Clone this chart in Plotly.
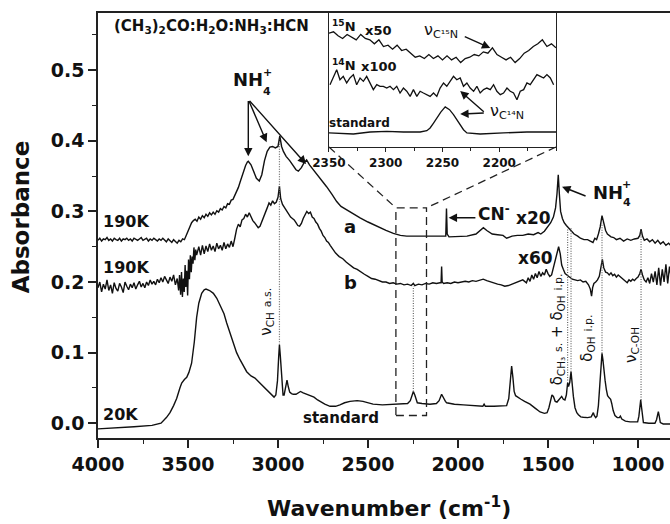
import plotly.graph_objects as go

FONT = "DejaVu Sans"
INK = "#111111"

# ---------------- main spectra: (wavenumber cm^-1, absorbance) ----------------
spec_standard = [
    (4000, -0.008), (3900, -0.007), (3800, -0.005), (3700, -0.003), (3650, 0.000), (3620, 0.008),
    (3600, 0.015), (3580, 0.025), (3563, 0.035), (3545, 0.050), (3535, 0.057), (3520, 0.062),
    (3507, 0.065), (3495, 0.072), (3480, 0.085), (3465, 0.115), (3452, 0.150), (3440, 0.170),
    (3424, 0.184), (3410, 0.189), (3400, 0.190), (3380, 0.188), (3359, 0.184), (3340, 0.177),
    (3322, 0.168), (3300, 0.155), (3285, 0.142), (3265, 0.127), (3248, 0.113), (3230, 0.100),
    (3211, 0.090), (3190, 0.080), (3174, 0.073), (3150, 0.067), (3128, 0.064), (3105, 0.058),
    (3081, 0.052), (3060, 0.047), (3044, 0.043), (3030, 0.039), (3022, 0.037), (3012, 0.040),
    (3003, 0.060), (2996, 0.095), (2992, 0.111), (2987, 0.095), (2980, 0.060), (2972, 0.040),
    (2966, 0.040), (2958, 0.050), (2950, 0.061), (2943, 0.052), (2935, 0.044), (2925, 0.042),
    (2915, 0.041), (2900, 0.041), (2885, 0.044), (2875, 0.045), (2860, 0.043), (2840, 0.041),
    (2822, 0.040), (2800, 0.037), (2780, 0.033), (2760, 0.030), (2740, 0.027), (2711, 0.024),
    (2680, 0.024), (2656, 0.026), (2630, 0.029), (2600, 0.031), (2560, 0.032), (2528, 0.031),
    (2500, 0.029), (2472, 0.027), (2420, 0.026), (2361, 0.027), (2300, 0.028), (2280, 0.028),
    (2265, 0.032), (2255, 0.041), (2248, 0.045), (2240, 0.040), (2232, 0.031), (2226, 0.029),
    (2200, 0.028), (2156, 0.027), (2120, 0.028), (2105, 0.032), (2091, 0.041), (2082, 0.036),
    (2070, 0.031), (2063, 0.029), (2020, 0.027), (1970, 0.026), (1900, 0.025), (1862, 0.024),
    (1855, 0.027), (1848, 0.024), (1800, 0.024), (1760, 0.024), (1730, 0.025), (1718, 0.035),
    (1710, 0.060), (1702, 0.081), (1695, 0.065), (1688, 0.045), (1680, 0.039), (1665, 0.036),
    (1650, 0.034), (1630, 0.031), (1600, 0.027), (1570, 0.021), (1544, 0.016), (1520, 0.014),
    (1505, 0.015), (1495, 0.022), (1485, 0.034), (1478, 0.040), (1470, 0.038), (1460, 0.031),
    (1450, 0.030), (1440, 0.033), (1430, 0.037), (1424, 0.038), (1415, 0.034), (1406, 0.033),
    (1398, 0.040), (1391, 0.057), (1386, 0.052), (1379, 0.058), (1372, 0.073), (1366, 0.055),
    (1359, 0.038), (1350, 0.022), (1340, 0.015), (1331, 0.012), (1318, 0.009), (1304, 0.0085),
    (1280, 0.008), (1260, 0.009), (1252, 0.013), (1248, 0.015), (1243, 0.011), (1235, 0.008),
    (1228, 0.010), (1220, 0.025), (1212, 0.055), (1205, 0.085), (1200, 0.099), (1195, 0.090),
    (1188, 0.070), (1183, 0.061), (1176, 0.048), (1169, 0.039), (1160, 0.036), (1152, 0.034),
    (1146, 0.028), (1138, 0.018), (1128, 0.011), (1115, 0.008), (1104, 0.008), (1098, 0.010),
    (1090, 0.006), (1070, 0.003), (1044, 0.002), (1020, 0.002), (1002, 0.002), (995, 0.010),
    (989, 0.025), (985, 0.033), (980, 0.022), (975, 0.008), (970, 0.001), (940, 0.000),
    (906, 0.000), (897, 0.005), (892, 0.013), (887, 0.0165), (882, 0.010), (876, 0.001),
    (860, -0.001), (840, -0.001), (815, -0.001),
]

spec_a = [
    (4000, 0.259), (3990, 0.262), (3980, 0.258), (3970, 0.261), (3960, 0.260), (3950, 0.263),
    (3940, 0.259), (3930, 0.261), (3920, 0.258), (3910, 0.262), (3900, 0.260), (3890, 0.259),
    (3880, 0.262), (3870, 0.258), (3860, 0.261), (3850, 0.260), (3840, 0.262), (3830, 0.259),
    (3820, 0.261), (3810, 0.258), (3800, 0.262), (3790, 0.260), (3780, 0.259), (3770, 0.261),
    (3760, 0.263), (3750, 0.259), (3740, 0.260), (3730, 0.262), (3720, 0.258), (3710, 0.261),
    (3700, 0.259), (3690, 0.262), (3680, 0.260), (3670, 0.258), (3660, 0.261), (3650, 0.259),
    (3640, 0.262), (3630, 0.260), (3620, 0.257), (3610, 0.261), (3600, 0.259), (3590, 0.256),
    (3580, 0.260), (3570, 0.258), (3560, 0.255), (3550, 0.259), (3540, 0.257), (3530, 0.261),
    (3520, 0.260), (3510, 0.266), (3500, 0.273), (3490, 0.280), (3480, 0.284), (3470, 0.287),
    (3460, 0.289), (3450, 0.286), (3440, 0.292), (3430, 0.289), (3420, 0.294), (3410, 0.291),
    (3400, 0.296), (3390, 0.293), (3380, 0.298), (3370, 0.295), (3360, 0.299), (3350, 0.296),
    (3340, 0.301), (3330, 0.299), (3320, 0.304), (3310, 0.302), (3300, 0.307), (3290, 0.305),
    (3280, 0.311), (3270, 0.310), (3260, 0.316), (3250, 0.317), (3240, 0.323), (3230, 0.327),
    (3220, 0.334), (3210, 0.342), (3200, 0.350), (3190, 0.358), (3180, 0.365), (3170, 0.370),
    (3165, 0.371), (3150, 0.366), (3135, 0.356), (3120, 0.347), (3104, 0.343), (3090, 0.352),
    (3075, 0.372), (3060, 0.385), (3045, 0.391), (3030, 0.392), (3015, 0.390), (3000, 0.392),
    (2990, 0.407), (2980, 0.392), (2970, 0.385), (2955, 0.378), (2935, 0.372), (2915, 0.364),
    (2900, 0.359), (2887, 0.357), (2870, 0.362), (2855, 0.369), (2841, 0.373), (2825, 0.366),
    (2800, 0.358), (2785, 0.353), (2760, 0.345), (2730, 0.335), (2700, 0.324), (2674, 0.314),
    (2650, 0.307), (2619, 0.302), (2580, 0.296), (2544, 0.291), (2500, 0.285), (2452, 0.279),
    (2400, 0.273), (2359, 0.269), (2320, 0.266), (2285, 0.265), (2250, 0.265), (2210, 0.264),
    (2170, 0.264), (2120, 0.265), (2080, 0.265), (2068, 0.265), (2064, 0.304), (2060, 0.268),
    (2050, 0.264), (2020, 0.264), (1990, 0.265), (1950, 0.265), (1900, 0.268), (1875, 0.274),
    (1859, 0.277), (1840, 0.273), (1810, 0.268), (1780, 0.267), (1750, 0.266), (1730, 0.262),
    (1700, 0.265), (1670, 0.266), (1640, 0.266), (1610, 0.268), (1580, 0.267), (1555, 0.270),
    (1540, 0.268), (1520, 0.272), (1500, 0.278), (1485, 0.284), (1470, 0.292), (1458, 0.305),
    (1450, 0.325), (1443, 0.352), (1437, 0.325), (1430, 0.300), (1420, 0.290), (1410, 0.284),
    (1398, 0.280), (1390, 0.278), (1380, 0.275), (1370, 0.272), (1355, 0.268), (1335, 0.265),
    (1320, 0.262), (1300, 0.260), (1280, 0.260), (1265, 0.258), (1250, 0.256), (1240, 0.262),
    (1230, 0.260), (1220, 0.268), (1210, 0.278), (1200, 0.294), (1190, 0.285), (1180, 0.273),
    (1170, 0.268), (1160, 0.266), (1150, 0.264), (1135, 0.263), (1120, 0.260), (1100, 0.262),
    (1080, 0.258), (1060, 0.261), (1040, 0.259), (1020, 0.261), (1000, 0.262), (990, 0.266),
    (983, 0.275), (975, 0.265), (965, 0.259), (950, 0.261), (935, 0.257), (920, 0.260),
    (905, 0.255), (890, 0.259), (875, 0.254), (860, 0.257), (845, 0.252), (830, 0.255),
    (815, 0.251),
]

spec_b = [
    (4000, 0.192), (3990, 0.200), (3980, 0.186), (3970, 0.197), (3960, 0.190), (3950, 0.203),
    (3940, 0.188), (3930, 0.196), (3920, 0.184), (3910, 0.199), (3900, 0.191), (3890, 0.187),
    (3880, 0.198), (3870, 0.193), (3860, 0.185), (3850, 0.200), (3840, 0.194), (3830, 0.189),
    (3820, 0.197), (3810, 0.192), (3800, 0.199), (3790, 0.190), (3780, 0.196), (3770, 0.201),
    (3760, 0.193), (3750, 0.198), (3740, 0.192), (3730, 0.200), (3720, 0.195), (3710, 0.203),
    (3700, 0.197), (3690, 0.201), (3680, 0.196), (3670, 0.204), (3660, 0.199), (3650, 0.206),
    (3640, 0.200), (3630, 0.208), (3620, 0.203), (3610, 0.198), (3600, 0.207), (3590, 0.201),
    (3580, 0.210), (3570, 0.196), (3560, 0.205), (3552, 0.188), (3547, 0.210), (3541, 0.182),
    (3536, 0.214), (3531, 0.179), (3526, 0.205), (3521, 0.186), (3516, 0.224), (3512, 0.193),
    (3507, 0.216), (3502, 0.181), (3497, 0.232), (3492, 0.204), (3487, 0.238), (3482, 0.214),
    (3477, 0.236), (3472, 0.226), (3467, 0.249), (3462, 0.231), (3457, 0.246), (3452, 0.238),
    (3440, 0.250), (3430, 0.238), (3420, 0.252), (3410, 0.240), (3400, 0.251), (3390, 0.243),
    (3380, 0.254), (3370, 0.245), (3360, 0.251), (3350, 0.243), (3340, 0.255), (3330, 0.247),
    (3320, 0.252), (3310, 0.245), (3300, 0.256), (3290, 0.247), (3280, 0.254), (3270, 0.249),
    (3260, 0.258), (3250, 0.250), (3240, 0.262), (3230, 0.275), (3220, 0.282), (3210, 0.278),
    (3200, 0.288), (3190, 0.290), (3180, 0.296), (3170, 0.292), (3160, 0.298), (3150, 0.291),
    (3140, 0.287), (3130, 0.284), (3120, 0.280), (3110, 0.277), (3100, 0.279), (3090, 0.285),
    (3080, 0.293), (3070, 0.299), (3060, 0.305), (3050, 0.312), (3040, 0.309), (3030, 0.315),
    (3020, 0.311), (3010, 0.313), (3000, 0.320), (2992, 0.336), (2985, 0.318), (2975, 0.310),
    (2965, 0.306), (2950, 0.300), (2940, 0.296), (2930, 0.292), (2920, 0.290), (2910, 0.288),
    (2900, 0.284), (2890, 0.280), (2880, 0.279), (2870, 0.283), (2860, 0.290), (2850, 0.296),
    (2840, 0.300), (2830, 0.297), (2820, 0.299), (2810, 0.292), (2800, 0.290), (2790, 0.285),
    (2780, 0.282), (2770, 0.276), (2760, 0.272), (2750, 0.266), (2740, 0.263), (2730, 0.258),
    (2720, 0.256), (2710, 0.252), (2700, 0.248), (2680, 0.241), (2660, 0.236), (2640, 0.233),
    (2620, 0.228), (2600, 0.224), (2580, 0.220), (2560, 0.218), (2540, 0.214), (2520, 0.211),
    (2500, 0.208), (2480, 0.205), (2460, 0.204), (2440, 0.202), (2420, 0.200), (2400, 0.200),
    (2380, 0.198), (2360, 0.199), (2340, 0.197), (2320, 0.198), (2300, 0.196), (2280, 0.197),
    (2260, 0.195), (2248, 0.198), (2240, 0.195), (2220, 0.197), (2200, 0.196), (2180, 0.198),
    (2160, 0.197), (2140, 0.199), (2120, 0.198), (2100, 0.199), (2094, 0.199), (2091, 0.222),
    (2088, 0.200), (2080, 0.198), (2060, 0.199), (2040, 0.198), (2020, 0.200), (2000, 0.199),
    (1980, 0.200), (1960, 0.201), (1940, 0.200), (1920, 0.202), (1900, 0.201), (1880, 0.203),
    (1860, 0.204), (1840, 0.202), (1820, 0.200), (1800, 0.199), (1780, 0.197), (1760, 0.196),
    (1740, 0.194), (1720, 0.195), (1700, 0.197), (1680, 0.198), (1660, 0.200), (1640, 0.203),
    (1620, 0.199), (1610, 0.206), (1600, 0.201), (1590, 0.210), (1580, 0.204), (1570, 0.212),
    (1560, 0.206), (1550, 0.215), (1540, 0.208), (1530, 0.213), (1520, 0.210), (1510, 0.218),
    (1500, 0.212), (1490, 0.208), (1480, 0.210), (1470, 0.220), (1460, 0.232), (1450, 0.242),
    (1441, 0.250), (1432, 0.240), (1424, 0.224), (1415, 0.218), (1405, 0.212), (1395, 0.210),
    (1385, 0.208), (1375, 0.206), (1365, 0.204), (1350, 0.203), (1335, 0.202), (1320, 0.203),
    (1305, 0.200), (1290, 0.201), (1275, 0.196), (1265, 0.190), (1258, 0.180), (1252, 0.192),
    (1245, 0.198), (1235, 0.200), (1225, 0.203), (1215, 0.208), (1205, 0.222), (1198, 0.232),
    (1190, 0.220), (1180, 0.214), (1170, 0.213), (1160, 0.210), (1150, 0.213), (1140, 0.209),
    (1130, 0.211), (1120, 0.207), (1110, 0.210), (1100, 0.208), (1090, 0.205), (1080, 0.203),
    (1070, 0.201), (1060, 0.199), (1050, 0.203), (1040, 0.201), (1030, 0.204), (1020, 0.202),
    (1010, 0.205), (1000, 0.207), (990, 0.212), (983, 0.218), (975, 0.210), (965, 0.203),
    (955, 0.200), (945, 0.206), (935, 0.198), (925, 0.212), (915, 0.200), (905, 0.215),
    (895, 0.196), (885, 0.220), (875, 0.195), (865, 0.218), (855, 0.200), (845, 0.225),
    (835, 0.198), (825, 0.222), (815, 0.205),
]

# ---------------- inset: CN stretch region (arbitrary offset units) ----------------
inset_n15 = [
    (2350, 0.85), (2346, 0.86), (2342, 0.83), (2338, 0.81), (2334, 0.84), (2330, 0.82),
    (2326, 0.80), (2322, 0.84), (2318, 0.81), (2314, 0.80), (2310, 0.77), (2306, 0.80),
    (2302, 0.75), (2298, 0.76), (2294, 0.73), (2290, 0.76), (2286, 0.72), (2282, 0.73),
    (2278, 0.70), (2274, 0.67), (2270, 0.68), (2266, 0.66), (2262, 0.69), (2258, 0.66),
    (2254, 0.68), (2250, 0.65), (2246, 0.68), (2242, 0.65), (2238, 0.67), (2234, 0.63),
    (2230, 0.66), (2226, 0.67), (2222, 0.69), (2218, 0.68), (2214, 0.71), (2210, 0.70),
    (2206, 0.74), (2202, 0.69), (2198, 0.67), (2194, 0.65), (2190, 0.67), (2186, 0.63),
    (2182, 0.66), (2178, 0.70), (2174, 0.72), (2170, 0.75), (2166, 0.77), (2162, 0.80),
    (2158, 0.75), (2154, 0.77), (2150, 0.74),
]

inset_n14 = [
    (2349.1, 0.465), (2346.2, 0.515), (2343.2, 0.577), (2340.3, 0.502), (2337.4, 0.527),
    (2334.4, 0.478), (2331.5, 0.515), (2328.5, 0.540), (2325.6, 0.465), (2322.6, 0.515),
    (2319.7, 0.490), (2316.8, 0.527), (2313.8, 0.478), (2310.9, 0.428), (2307.9, 0.465),
    (2305.0, 0.453), (2302.1, 0.453), (2299.1, 0.440), (2296.2, 0.453), (2293.2, 0.428),
    (2290.3, 0.453), (2287.4, 0.403), (2284.4, 0.440), (2281.5, 0.416), (2278.5, 0.378),
    (2275.6, 0.428), (2272.6, 0.378), (2269.7, 0.416), (2266.8, 0.403), (2263.8, 0.391),
    (2260.9, 0.378), (2257.9, 0.403), (2255.0, 0.378), (2252.1, 0.440), (2249.1, 0.478),
    (2246.2, 0.453), (2243.2, 0.490), (2240.3, 0.527), (2237.4, 0.502), (2234.4, 0.515),
    (2231.5, 0.453), (2228.5, 0.478), (2225.6, 0.440), (2222.6, 0.416), (2219.7, 0.453),
    (2216.8, 0.403), (2213.8, 0.428), (2210.9, 0.440), (2207.9, 0.428), (2205.0, 0.465),
    (2202.1, 0.416), (2199.1, 0.391), (2196.2, 0.403), (2193.2, 0.440), (2190.3, 0.416),
    (2187.4, 0.403), (2184.4, 0.353), (2181.5, 0.416), (2178.5, 0.428), (2175.6, 0.478),
    (2172.7, 0.465), (2169.7, 0.502), (2166.8, 0.540), (2163.8, 0.527), (2160.9, 0.515),
    (2158.0, 0.540), (2155.0, 0.515), (2152.1, 0.465),
]

inset_standard = [
    (2350, 0.105), (2328.5, 0.097), (2313.8, 0.112), (2299.1, 0.117), (2284.4, 0.112),
    (2269.7, 0.112), (2263.8, 0.122), (2260.9, 0.142), (2257.9, 0.179), (2255.0, 0.216),
    (2251.5, 0.261), (2247.6, 0.299), (2243.8, 0.279), (2240.3, 0.241), (2237.4, 0.204),
    (2234.4, 0.167), (2231.5, 0.129), (2228.5, 0.105), (2216.8, 0.097), (2196.2, 0.105),
    (2175.6, 0.112), (2150, 0.112),
]

# band assignments: (wavenumber, upper absorbance, lower absorbance)
assignment_lines = [
    (2992, 0.402, 0.111),
    (2248, 0.194, 0.045),
    (1391, 0.277, 0.057),
    (1372, 0.277, 0.073),
    (1200, 0.284, 0.099),
    (983, 0.274, 0.033),
]

X_RANGE = [4000, 822.2]
Y_RANGE = [-0.0209, 0.581]
X_TICKS = [4000, 3500, 3000, 2500, 2000, 1500, 1000]
Y_TICKS = [0.0, 0.1, 0.2, 0.3, 0.4, 0.5]
INSET_RANGE = [2350, 2150]
INSET_TICKS = [2350, 2300, 2250, 2200]
INSET_DOM_X = [0.4038, 0.8007]
INSET_DOM_Y = [0.6847, 1.0]
ZOOM_BOX = (2345, 2175, 0.011, 0.305)


def split(pairs):
    return [p[0] for p in pairs], [p[1] for p in pairs]


fig = go.Figure()

for pairs in (spec_standard, spec_a, spec_b):
    xs, ys = split(pairs)
    fig.add_trace(go.Scatter(x=xs, y=ys, mode="lines",
                             line=dict(color=INK, width=1.4), showlegend=False,
                             hoverinfo="skip"))

for pairs in (inset_n15, inset_n14, inset_standard):
    xs, ys = split(pairs)
    fig.add_trace(go.Scatter(x=xs, y=ys, mode="lines", xaxis="x2", yaxis="y2",
                             line=dict(color=INK, width=1.3), showlegend=False,
                             hoverinfo="skip"))

shapes = []
for wn, top, bottom in assignment_lines:
    shapes.append(dict(type="line", xref="x", yref="y", x0=wn, x1=wn, y0=bottom, y1=top,
                       line=dict(color="#666666", width=1.2, dash="1px,1.5px")))

# zoom box on the main axes
bx0, bx1, by0, by1 = ZOOM_BOX
shapes.append(dict(type="rect", xref="x", yref="y", x0=bx0, x1=bx1, y0=by0, y1=by1,
                   line=dict(color="#222222", width=1.3, dash="8px,5px")))


def paper_to_x(p):
    return X_RANGE[0] + p * (X_RANGE[1] - X_RANGE[0])


def paper_to_y(q):
    return Y_RANGE[0] + q * (Y_RANGE[1] - Y_RANGE[0])


for px, bx in ((INSET_DOM_X[0], bx0), (INSET_DOM_X[1], bx1)):
    shapes.append(dict(type="line", xref="x", yref="y",
                       x0=paper_to_x(px), y0=paper_to_y(INSET_DOM_Y[0]), x1=bx, y1=by1,
                       line=dict(color="#222222", width=1.3, dash="8px,5px")))

ann = []


def text(x, y, s, size, bold=True, xanchor="center", angle=0, xref="x", yref="y"):
    ann.append(dict(x=x, y=y, xref=xref, yref=yref, text=s, showarrow=False,
                    xanchor=xanchor, yanchor="middle", textangle=angle,
                    font=dict(family=FONT, size=size, color=INK,
                              weight="bold" if bold else "normal")))


def arrow(x_tail, y_tail, x_head, y_head, xref="x", yref="y"):
    ann.append(dict(x=x_head, y=y_head, ax=x_tail, ay=y_tail, xref=xref, yref=yref,
                    axref=xref, ayref=yref, text="", showarrow=True, arrowhead=2,
                    arrowsize=1.2, arrowwidth=1.4, arrowcolor=INK))


def small(s):
    return "<span style='font-size:11px'>" + s + "</span>"


# main-panel labels
text(3372, 0.562, "(CH<sub>3</sub>)<sub>2</sub>CO:H<sub>2</sub>O:NH<sub>3</sub>:HCN", 15)
text(3164, 0.487, "NH", 18)
text(3061, 0.497, "+", 11)
text(3061, 0.470, "4", 11)
arrow(3165, 0.4586, 3165, 0.378)
arrow(3165, 0.4586, 3063, 0.398)
arrow(3165, 0.4586, 2844, 0.367)

text(1169, 0.327, "NH", 18)
text(1062, 0.338, "+", 11)
text(1062, 0.312, "4", 11)
arrow(1283, 0.321, 1422, 0.335)

text(1800, 0.298, "CN<sup>-</sup>", 17)
arrow(1895, 0.291, 2052, 0.291)
text(1578, 0.290, "x20", 17)
text(1572, 0.2345, "x60", 17)
text(2600, 0.2785, "a", 18)
text(2600, 0.199, "b", 18)
text(3983, 0.2856, "190K", 16, xanchor="left")
text(3983, 0.2203, "190K", 16, xanchor="left")
text(3983, 0.0118, "20K", 16, xanchor="left")
text(2650, 0.0075, "standard", 15)

text(3061, 0.158, "ν<sub>CH</sub> " + small("a.s."), 15, bold=False, angle=-90)
text(1450, 0.133, "δ<sub>CH₃</sub> " + small("s.") + " + δ<sub>OH</sub> " + small("i.p."), 15,
     bold=False, angle=-90)
text(1278, 0.121, "δ<sub>OH</sub> " + small("i.p."), 15, bold=False, angle=-90)
text(1033, 0.111, "ν<sub>C-OH</sub>", 15, bold=False, angle=-90)

# inset labels
text(2349, 0.905, "<sup>15</sup>N", 13, xanchor="left", xref="x2", yref="y2")
text(2306.8, 0.873, "x50", 13, xref="x2", yref="y2")
text(2251, 0.873, "ν<sub>C¹⁵N</sub>", 16, bold=False, xref="x2", yref="y2")
arrow(2231.7, 0.828, 2207.9, 0.739, xref="x2", yref="y2")
text(2349, 0.615, "<sup>14</sup>N", 13, xanchor="left", xref="x2", yref="y2")
text(2305.9, 0.604, "x100", 13, xref="x2", yref="y2")
text(2323, 0.179, "standard", 12, xref="x2", yref="y2")
text(2193, 0.265, "ν<sub>C¹⁴N</sub>", 16, bold=False, xref="x2", yref="y2")
arrow(2212.3, 0.254, 2234.4, 0.246, xref="x2", yref="y2")
arrow(2212.3, 0.254, 2234.4, 0.418, xref="x2", yref="y2")

# axis titles
text(-0.134, 0.52, "Absorbance", 23, angle=-90, xref="paper", yref="paper")
text(0.508, -0.162, "Wavenumber (cm<sup>-1</sup>)", 22, xref="paper", yref="paper")

axis_common = dict(showgrid=False, zeroline=False, showline=True, linecolor="#222222",
                   linewidth=1.5, ticks="outside", tickcolor="#222222", tickwidth=1.5,
                   ticklen=8,
                   tickfont=dict(family=FONT, size=19, color=INK, weight="bold"))

fig.update_layout(
    width=670, height=524,
    margin=dict(l=98, r=0, t=13, b=86),
    paper_bgcolor="white", plot_bgcolor="white",
    xaxis=dict(range=X_RANGE, tickvals=X_TICKS, mirror=True,
               minor=dict(dtick=250, tick0=0, ticklen=4, ticks="outside",
                          tickcolor="#222222", tickwidth=1.3),
               **axis_common),
    yaxis=dict(range=Y_RANGE, tickvals=Y_TICKS, tickformat=".1f",
               minor=dict(dtick=0.05, tick0=0, ticklen=4, ticks="outside",
                          tickcolor="#222222", tickwidth=1.3),
               **axis_common),
    xaxis2=dict(domain=INSET_DOM_X, anchor="y2", range=INSET_RANGE, tickvals=INSET_TICKS,
                showgrid=False, zeroline=False, showline=True, mirror=True,
                linecolor="#222222", linewidth=1.4, ticks="outside", ticklen=4,
                tickwidth=1.2, tickcolor="#222222",
                minor=dict(dtick=25, tick0=0, ticklen=3, ticks="outside",
                           tickcolor="#222222"),
                tickfont=dict(family=FONT, size=12, color=INK, weight="bold")),
    yaxis2=dict(domain=INSET_DOM_Y, anchor="x2", range=[0, 1], showgrid=False,
                zeroline=False, showline=True, mirror=True, linecolor="#222222",
                linewidth=1.4, ticks="", showticklabels=False),
    shapes=shapes,
    annotations=ann,
)

fig.write_html("out.html")
